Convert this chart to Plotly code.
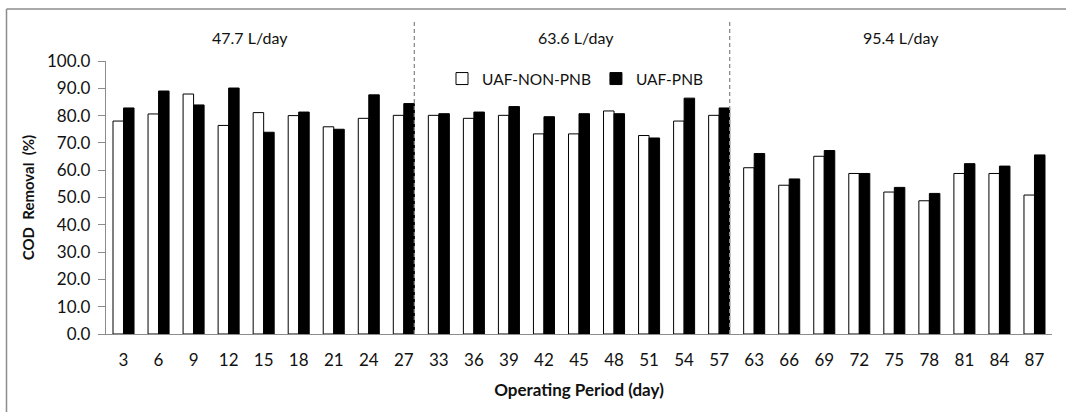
import plotly.graph_objects as go

days = ["3", "6", "9", "12", "15", "18", "21", "24", "27",
        "33", "36", "39", "42", "45", "48", "51", "54", "57",
        "63", "66", "69", "72", "75", "78", "81", "84", "87"]
non_pnb = [78.0, 80.6, 87.9, 76.4, 81.1, 80.0, 75.9, 79.0, 80.1,
           80.1, 79.0, 80.1, 73.3, 73.3, 81.7, 72.7, 78.0, 80.1,
           60.9, 54.5, 65.1, 58.8, 52.0, 48.8, 58.8, 58.8, 50.9]
pnb = [82.8, 89.0, 83.9, 90.1, 73.9, 81.3, 75.0, 87.6, 84.4,
       80.7, 81.3, 83.3, 79.6, 80.7, 80.7, 71.8, 86.4, 82.8,
       66.1, 56.8, 67.2, 58.8, 53.7, 51.5, 62.4, 61.5, 65.6]
phase_labels = ["47.7 L/day", "63.6 L/day", "95.4 L/day"]
phase_centers = [3.6, 12.9, 22.2]
divider_after = [8, 17]
y_ticks = [0, 10, 20, 30, 40, 50, 60, 70, 80, 90, 100]

FONT = "Lato, 'Open Sans', sans-serif"
PH = 273.3  # plot height in px
PW = 946.0  # plot width in px
idx = list(range(len(days)))

fig = go.Figure()
fig.add_trace(go.Bar(x=idx, y=non_pnb, name="UAF-NON-PNB",
                     marker=dict(color="white", line=dict(color="black", width=1))))
fig.add_trace(go.Bar(x=idx, y=pnb, name="UAF-PNB",
                     marker=dict(color="black", line=dict(color="black", width=1))))

shapes = []
for d in divider_after:
    shapes.append(dict(type="line", xref="x", yref="paper", x0=d + 0.3, x1=d + 0.3,
                       y0=0, y1=1 + 41 / PH, line=dict(color="#8c8c8c", width=1.3, dash="4px,3px")))
# outer chart border (left and top edges visible)
border_top = 1 + 52 / PH
border_left = -99.5 / PW
shapes.append(dict(type="line", xref="paper", yref="paper", x0=border_left, x1=1.1,
                   y0=border_top, y1=border_top, line=dict(color="#8c8c8c", width=1.5)))
shapes.append(dict(type="line", xref="paper", yref="paper", x0=border_left, x1=border_left,
                   y0=-0.4, y1=border_top, line=dict(color="#8c8c8c", width=1.5)))

annotations = []
for lab, c in zip(phase_labels, phase_centers):
    annotations.append(dict(text=lab, x=c, y=1 + 24 / PH, xref="x", yref="paper",
                            showarrow=False, font=dict(family=FONT, size=16, color="#111"),
                            xanchor="center", yanchor="middle"))

fig.update_layout(
    width=1066, height=412,
    margin=dict(l=106, r=14, t=61, b=78),
    paper_bgcolor="white", plot_bgcolor="white",
    barmode="group", bargap=0.4, bargroupgap=0,
    font=dict(family=FONT, size=14, color="#111"),
    shapes=shapes, annotations=annotations,
    showlegend=True,
    legend=dict(orientation="h", x=(442 - 106) / PW, y=1 - 18 / PH, xanchor="left", yanchor="middle",
                font=dict(family=FONT, size=15.5, color="#111"), bgcolor="rgba(0,0,0,0)",
                traceorder="normal"),
    xaxis=dict(tickmode="array", tickvals=idx, ticktext=days, range=[-0.5, len(days) - 0.5],
               showline=True, linecolor="#8c8c8c", linewidth=1.3, ticks="", showgrid=False,
               zeroline=False, ticklabelstandoff=10, automargin=False,
               tickfont=dict(family=FONT, size=17, color="#111"),
               title=dict(text="<b>Operating Period (day)</b>", font=dict(family=FONT, size=17, color="#111"),
                          standoff=15)),
    yaxis=dict(range=[0, 100], tickmode="array", tickvals=y_ticks, tickformat=".1f",
               showline=True, linecolor="#8c8c8c", linewidth=1.3, ticks="outside", ticklen=7,
               tickcolor="#8c8c8c", showgrid=False, zeroline=False, ticklabelstandoff=4, automargin=False,
               tickfont=dict(family=FONT, size=17, color="#111"),
               title=dict(text="<b>COD\u00a0 Removal\u00a0 (%)</b>", font=dict(family=FONT, size=15, color="#111"),
                          standoff=8)),
)

fig.write_html("out.html", config={"displayModeBar": False},
               post_script="document.body.style.margin='0';")
